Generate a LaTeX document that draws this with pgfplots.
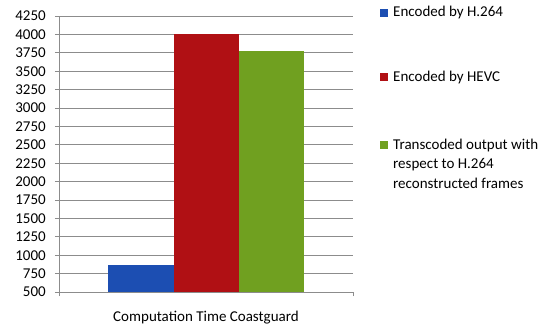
\documentclass[border=0pt]{standalone}
\usepackage{fontspec}
\setmainfont{Carlito}
\usepackage{pgfplots}
\pgfplotsset{compat=1.18}
\definecolor{cblue}{RGB}{28,78,178}
\definecolor{cred}{RGB}{176,16,20}
\definecolor{cgreen}{RGB}{112,160,32}
\definecolor{gridc}{RGB}{140,140,140}
\begin{document}
\fontsize{15bp}{18bp}\selectfont
\begin{tikzpicture}
\begin{axis}[
  at={(0,0)}, anchor=south west,
  scale only axis, width=294bp, height=276bp,
  xmin=-1, xmax=1, ymin=500, ymax=4250,
  ytick={500,750,...,4250},
  xtick={0}, xticklabels={Computation Time Coastguard},
  ybar=0pt, bar width=65bp,
  axis x line*=bottom, axis y line*=left,
  axis line style={gridc, line width=0.8bp},
  ymajorgrids, grid style={gridc, line width=0.8bp},
  tick align=outside, major tick length=4bp,
  y tick style={gridc, line width=0.8bp},
  x tick style={draw=none},
  extra x ticks={-1,1}, extra x tick labels={},
  extra x tick style={grid=none, x tick style={draw=gridc, line width=0.8bp}},
  tick label style={font=\fontsize{15bp}{18bp}\selectfont},
  /pgf/number format/assume math mode=true,
  /pgf/number format/1000 sep={},
  yticklabel style={xshift=-4bp},
  xticklabel style={yshift=-10bp},
  legend image code/.code={\fill[#1] (0bp,0bp) rectangle (8bp,8bp);},
  legend style={at={(1.0918,1.036)}, anchor=north west, draw=none, fill=none,
    inner sep=0pt, row sep=52bp,
    cells={anchor=base west},
    nodes={inner xsep=5bp, inner ysep=0bp},
    font=\fontsize{15bp}{19.5bp}\selectfont},
]
\addplot[fill=cblue, draw=none] coordinates {(0,862)};
\addlegendentry{Encoded by H.264}
\addplot[fill=cred, draw=none] coordinates {(0,4000)};
\addlegendentry{Encoded by HEVC}
\addplot[fill=cgreen, draw=none] coordinates {(0,3780)};
\addlegendentry{\begin{tabular}[t]{@{}l@{}}Transcoded output with\\respect to H.264\\reconstructed frames\end{tabular}}
\end{axis}
\pgfresetboundingbox
\path (-59bp,-32bp) rectangle (489bp,292bp);
\end{tikzpicture}
\end{document}
